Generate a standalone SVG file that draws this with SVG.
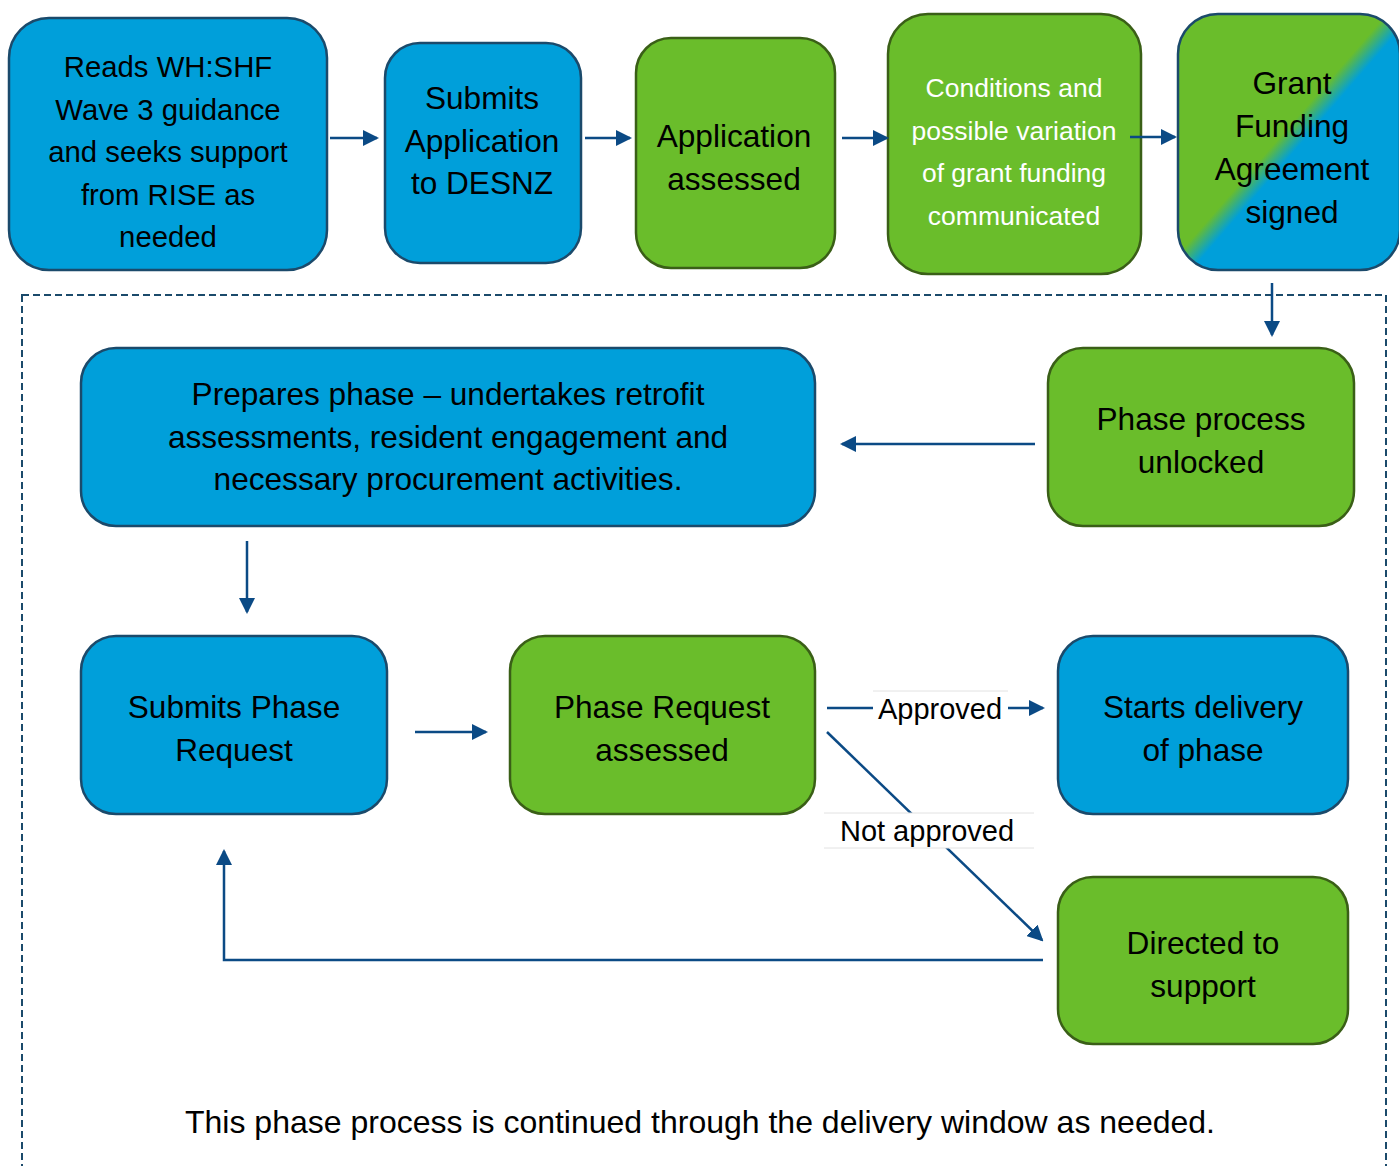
<svg xmlns="http://www.w3.org/2000/svg" width="1399" height="1166" viewBox="0 0 1399 1166">
<style>
text{font-family:"Liberation Sans",Arial,sans-serif;text-anchor:middle;fill:#000}
.b{fill:#009FDA;stroke:#1B4A6B;stroke-width:2.5}
.g{fill:#6ABD2B;stroke:#3A5F17;stroke-width:2.5}
.t31{font-size:31.6px}
.t29{font-size:29.3px}
.t26{font-size:26.5px;fill:#fff}
.c{fill:none;stroke:#0B4A85;stroke-width:2.5}
.lbl{fill:#fff}
.lline{stroke:#e2e2e2;stroke-width:1}
</style>
<defs>
<marker id="ah" markerWidth="16" markerHeight="16" refX="14" refY="8" orient="auto" markerUnits="userSpaceOnUse">
<path d="M0,0 L16,8 L0,16 Z" fill="#0B4A85"/>
</marker>
<linearGradient id="gb" x1="0" y1="0" x2="1" y2="1">
<stop offset="0.47" stop-color="#6ABD2B"/>
<stop offset="0.53" stop-color="#009FDA"/>
</linearGradient>
</defs>
<rect x="0" y="0" width="1399" height="1166" fill="#fff"/>
<rect x="22" y="295" width="1364" height="900" fill="none" stroke="#1B4A6B" stroke-width="2" stroke-dasharray="7 4"/>

<g id="n1"><rect class="b" x="9" y="18" width="318" height="252" rx="40"/>
<text class="t29"><tspan x="168" y="77">Reads WH:SHF</tspan><tspan x="168" y="120">Wave 3 guidance</tspan><tspan x="168" y="162">and seeks support</tspan><tspan x="168" y="205">from RISE as</tspan><tspan x="168" y="247">needed</tspan></text></g>

<g id="n2"><rect class="b" x="385" y="43" width="196" height="220" rx="35"/>
<text class="t31"><tspan x="482" y="109">Submits</tspan><tspan x="482" y="152">Application</tspan><tspan x="482" y="194">to DESNZ</tspan></text></g>

<g id="n3"><rect class="g" x="636" y="38" width="199" height="230" rx="35"/>
<text class="t31"><tspan x="734" y="147">Application</tspan><tspan x="734" y="190">assessed</tspan></text></g>

<g id="n4"><rect class="g" x="888" y="14" width="253" height="260" rx="40"/>
<text class="t26"><tspan x="1014" y="97">Conditions and</tspan><tspan x="1014" y="140">possible variation</tspan><tspan x="1014" y="182">of grant funding</tspan><tspan x="1014" y="225">communicated</tspan></text></g>

<g id="n5"><rect x="1178" y="14" width="222" height="256" rx="40" fill="url(#gb)" stroke="#1B4A6B" stroke-width="2.5"/>
<text class="t31"><tspan x="1292" y="94">Grant</tspan><tspan x="1292" y="137">Funding</tspan><tspan x="1292" y="180">Agreement</tspan><tspan x="1292" y="223">signed</tspan></text></g>

<g id="n6"><rect class="g" x="1048" y="348" width="306" height="178" rx="35"/>
<text class="t31"><tspan x="1201" y="430">Phase process</tspan><tspan x="1201" y="473">unlocked</tspan></text></g>

<g id="n7"><rect class="b" x="81" y="348" width="734" height="178" rx="35"/>
<text class="t31"><tspan x="448" y="405">Prepares phase – undertakes retrofit</tspan><tspan x="448" y="448">assessments, resident engagement and</tspan><tspan x="448" y="490">necessary procurement activities.</tspan></text></g>

<g id="n8"><rect class="b" x="81" y="636" width="306" height="178" rx="35"/>
<text class="t31"><tspan x="234" y="718">Submits Phase</tspan><tspan x="234" y="761">Request</tspan></text></g>

<g id="n9"><rect class="g" x="510" y="636" width="305" height="178" rx="35"/>
<text class="t31"><tspan x="662" y="718">Phase Request</tspan><tspan x="662" y="761">assessed</tspan></text></g>

<g id="n10"><rect class="b" x="1058" y="636" width="290" height="178" rx="35"/>
<text class="t31"><tspan x="1203" y="718">Starts delivery</tspan><tspan x="1203" y="761">of phase</tspan></text></g>

<g id="n11"><rect class="g" x="1058" y="877" width="290" height="167" rx="35"/>
<text class="t31"><tspan x="1203" y="954">Directed to</tspan><tspan x="1203" y="997">support</tspan></text></g>

<g id="connectors">
<line class="c" x1="330" y1="138" x2="377" y2="138" marker-end="url(#ah)"/>
<line class="c" x1="585" y1="138" x2="630" y2="138" marker-end="url(#ah)"/>
<line class="c" x1="842" y1="138" x2="887" y2="138" marker-end="url(#ah)"/>
<line class="c" x1="1130" y1="137" x2="1175" y2="137" marker-end="url(#ah)"/>
<line class="c" x1="1272" y1="283" x2="1272" y2="335" marker-end="url(#ah)"/>
<line class="c" x1="1035" y1="444" x2="842" y2="444" marker-end="url(#ah)"/>
<line class="c" x1="247" y1="541" x2="247" y2="612" marker-end="url(#ah)"/>
<line class="c" x1="415" y1="732" x2="486" y2="732" marker-end="url(#ah)"/>
<line class="c" x1="827" y1="708" x2="1043" y2="708" marker-end="url(#ah)"/>
<line class="c" x1="827" y1="732" x2="1042" y2="940" marker-end="url(#ah)"/>
<polyline class="c" points="1043,960 224,960 224,851" marker-end="url(#ah)"/>
<rect class="lbl" x="873" y="691" width="135" height="34"/>
<line class="lline" x1="873" y1="691" x2="1008" y2="691"/>
<text x="940" y="719" style="font-size:29px">Approved</text>
<rect class="lbl" x="824" y="813" width="210" height="35"/>
<line class="lline" x1="824" y1="813" x2="1034" y2="813"/>
<line class="lline" x1="824" y1="848" x2="1034" y2="848"/>
<text x="927" y="841" style="font-size:29px">Not approved</text>
</g>

<text x="700" y="1133" style="font-size:32px">This phase process is continued through the delivery window as needed.</text>
</svg>
